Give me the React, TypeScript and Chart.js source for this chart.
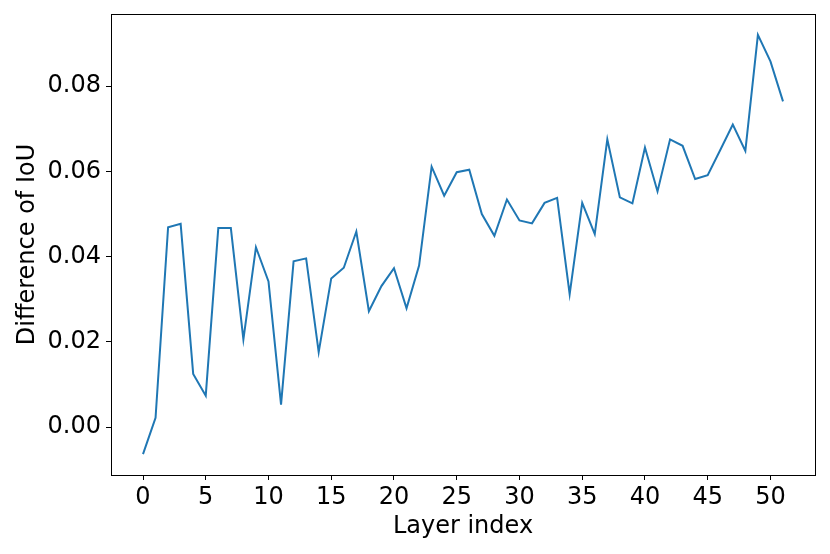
import React, { useEffect, useRef } from "react";
import { Chart, registerables } from "chart.js";

Chart.register(...registerables);

const layers: number[] = Array.from({ length: 52 }, (_, i) => i);
const iouDiff: number[] = [
  -0.0063, 0.0022, 0.0469, 0.0477, 0.0125, 0.0074, 0.0467, 0.0467, 0.0206, 0.0422,
  0.0342, 0.0053, 0.0389, 0.0396, 0.0176, 0.0349, 0.0374, 0.0459, 0.0272, 0.0331,
  0.0373, 0.0279, 0.0379, 0.0611, 0.0543, 0.0598, 0.0604, 0.05, 0.0449, 0.0534,
  0.0485, 0.0478, 0.0526, 0.0538, 0.0312, 0.0526, 0.0453, 0.0675, 0.0539, 0.0525,
  0.0656, 0.0553, 0.0675, 0.066, 0.0582, 0.0591, 0.065, 0.071, 0.0648, 0.092,
  0.0858, 0.0764,
];
const xTicks: number[] = [0, 5, 10, 15, 20, 25, 30, 35, 40, 45, 50];
const yTicks: number[] = [0, 0.02, 0.04, 0.06, 0.08];
const xLabel = "Layer index";
const yLabel = "Difference of IoU";

const FONT = "'DejaVu Sans', sans-serif";

const framePlugin = {
  id: "frame",
  afterDraw(chart: any) {
    const { ctx, chartArea } = chart;
    ctx.save();
    ctx.strokeStyle = "#000";
    ctx.lineWidth = 1;
    ctx.strokeRect(
      Math.round(chartArea.left) + 0.5,
      Math.round(chartArea.top) + 0.5,
      Math.round(chartArea.right - chartArea.left),
      Math.round(chartArea.bottom - chartArea.top)
    );
    ctx.restore();
  },
};

export default function App() {
  const ref = useRef<HTMLCanvasElement | null>(null);
  useEffect(() => {
    if (!ref.current) return;
    const chart = new Chart(ref.current, {
      type: "line",
      data: {
        datasets: [
          {
            data: layers.map((x, i) => ({ x, y: iouDiff[i] })),
            borderColor: "#1f77b4",
            borderWidth: 2,
            pointRadius: 0,
            tension: 0,
            fill: false,
          },
        ],
      },
      options: {
        animation: false,
        responsive: false,
        maintainAspectRatio: false,
        layout: { padding: { top: 14, right: 15, left: 0, bottom: 0 } },
        plugins: { legend: { display: false }, tooltip: { enabled: false } },
        scales: {
          x: {
            type: "linear",
            min: -2.55,
            max: 53.55,
            afterBuildTicks: (s: any) => {
              s.ticks = xTicks.map((v) => ({ value: v }));
            },
            afterFit: (s: any) => {
              s.height = 79;
            },
            ticks: {
              color: "#000",
              font: { family: FONT, size: 24 },
              padding: 3,
              maxRotation: 0,
              autoSkip: false,
              callback: (v: any) => String(v),
            },
            grid: {
              drawOnChartArea: false,
              tickLength: 5,
              tickColor: "#000",
              tickWidth: 1,
            },
            border: { display: false },
            title: {
              display: true,
              text: xLabel,
              color: "#000",
              font: { family: FONT, size: 24 },
              padding: { top: 0, bottom: 13 },
            },
          },
          y: {
            type: "linear",
            min: -0.0112,
            max: 0.0969,
            afterBuildTicks: (s: any) => {
              s.ticks = yTicks.map((v) => ({ value: v }));
            },
            afterFit: (s: any) => {
              s.width = 111;
            },
            ticks: {
              color: "#000",
              font: { family: FONT, size: 24, lineHeight: 0.6 },
              padding: 5,
              autoSkip: false,
              callback: (v: any) => Number(v).toFixed(2),
            },
            grid: {
              drawOnChartArea: false,
              tickLength: 5,
              tickColor: "#000",
              tickWidth: 1,
            },
            border: { display: false },
            title: {
              display: true,
              text: yLabel,
              color: "#000",
              font: { family: FONT, size: 24 },
              padding: { top: 13, bottom: 0 },
            },
          },
        },
      },
      plugins: [framePlugin],
    } as any);
    return () => chart.destroy();
  }, []);
  return (
    <div style={{ position: "fixed", left: 0, top: 0, width: 830, height: 554, background: "#fff" }}>
      <canvas ref={ref} width={830} height={554} style={{ display: "block", width: 830, height: 554 }} />
    </div>
  );
}
